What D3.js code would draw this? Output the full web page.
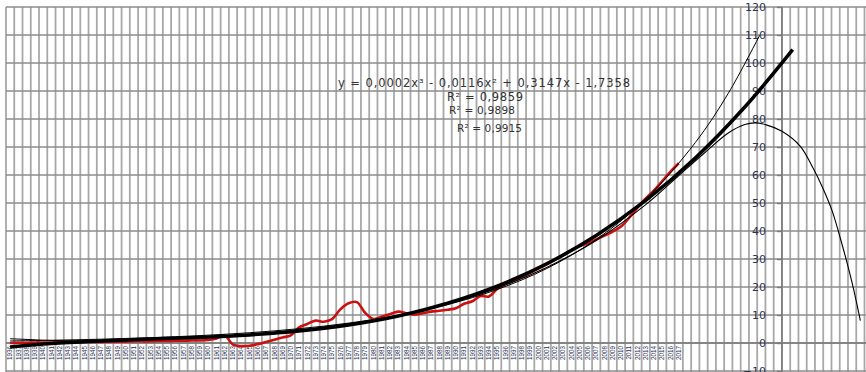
<!DOCTYPE html>
<html><head><meta charset="utf-8">
<script src="https://cdn.jsdelivr.net/npm/d3@7"></script>
<style>
body{margin:0;background:#fff}
svg{display:block;font-family:"DejaVu Sans",Verdana,sans-serif}
</style>
</head><body>
<svg id="c" width="866" height="372"></svg>
<script>
// ---- data ----
const years = ["1936","1937","1938","1939","1940","1941","1942","1943","1944","1945",
"1946","1947","1948","1949","1950","1951","1952","1953","1954","1955",
"1956","1957","1958","1959","1960","1961","1962","1963","1964","1965",
"1966","1967","1968","1969","1970","1971","1972","1973","1974","1975",
"1976","1977","1978","1979","1980","1981","1982","1983","1984","1985",
"1986","1987","1988","1989","1990","1991","1992","1993","1994","1995",
"1996","1997","1998","1999","2000","2001","2002","2003","2004","2005",
"2006","2007","2008","2009","2010","2011","2012","2013","2014","2015",
"2016","2017"];
const values = [0.0,0.1,0.1,0.2,0.2,0.2,0.3,0.3,0.3,0.4,
0.4,0.4,0.5,0.5,0.5,0.6,0.6,0.6,0.7,0.7,
0.8,0.8,0.9,0.9,1.1,1.6,2.7,-0.6,-1.1,-1.0,
-0.4,0.4,1.2,2.0,2.7,5.6,6.8,8.0,7.6,8.5,
12.0,14.2,14.6,10.8,8.6,9.4,10.3,11.2,10.6,10.1,
10.6,11.2,11.5,11.9,12.4,14.0,14.9,16.8,16.6,19.3,
21.0,22.3,23.6,25.1,26.6,28.1,29.7,31.3,33.2,34.6,
35.6,37.0,38.4,39.8,41.6,44.8,48.3,51.6,54.5,57.8,
61.2,64.2];
// trendline readings (category number, value)
const cubicX = [1,6,12,18,24,30,36,42,48,54,60,66,72,78,84,90,95.8];
const cubicY = [-1.4,-0.2,0.7,1.4,2.0,2.9,4.3,6.4,9.6,14.2,20.3,28.3,38.4,50.9,66.1,84.3,104.8];
const expX = [1,6,12,18,24,30,36,42,48,54,60,66,72,78,84,88,91.8];
const expY = [0.74,0.98,1.36,1.9,2.64,3.67,5.11,7.1,9.88,13.74,19.11,26.59,36.98,51.44,71.56,89.17,109.9];
const polyX = [1,6,12,18,24,30,36,42,48,54,60,66,72,78,82,85,88,90,91.2,92.5,94.5,96.7,98.3,99.5,100.6,101.8,103,104];
const polyY = [1.5,0.9,0.8,1.2,2.0,3.1,4.7,6.9,9.9,14.0,19.6,27.0,36.6,49.4,59.8,67.6,75.0,78.0,78.6,78.0,75.6,70.3,62.3,55.0,47.0,35.0,21.5,8.0];
const yTicks = [-10,0,10,20,30,40,50,60,70,80,90,100,110,120];
const equationText = "y = 0,0002x³ - 0,0116x² + 0,3147x - 1,7358";
const r2Texts = ["R² = 0,9859","R² = 0,9898","R² = 0,9915"];

// ---- chart ----
const svg = d3.select("#c");
const x = d3.scaleLinear().domain([0,104]).range([6,864.5]);
const y = d3.scaleLinear().domain([-10,120]).range([371,7]);
const gridColor = "#a8a8a8";

// vertical gridlines
svg.append("g").selectAll("line").data(d3.range(0,105)).join("line")
  .attr("x1",d=>x(d)).attr("x2",d=>x(d)).attr("y1",y(120)).attr("y2",372)
  .attr("stroke",gridColor).attr("stroke-width",1.8);
// horizontal gridlines
svg.append("g").selectAll("line").data(yTicks).join("line")
  .attr("x1",x(0)).attr("x2",866).attr("y1",d=>y(d)).attr("y2",d=>y(d))
  .attr("stroke","#8c8c8c").attr("stroke-width",1.6);

// category axis labels
const band = d3.scaleBand().domain(years).range([x(0),x(years.length)]);
const gx = svg.append("g").attr("transform",`translate(0,${y(0)})`)
  .call(d3.axisBottom(band).tickSize(0));
gx.select(".domain").remove();
gx.selectAll("text")
  .attr("y",0).attr("x",-3).attr("dy","0.35em")
  .attr("transform","rotate(-90)")
  .style("text-anchor","end").style("font-size","6.3px")
  .attr("fill","#2a2f55");

// horizontal axis line at 0
svg.append("line").attr("x1",x(0)).attr("x2",866).attr("y1",y(0)).attr("y2",y(0))
  .attr("stroke","#7a7a7a").attr("stroke-width",1.6);

// value axis
const gy = svg.append("g").attr("transform",`translate(${x(94)},0)`)
  .call(d3.axisLeft(y).tickValues(yTicks).tickSize(5).tickSizeOuter(0).tickPadding(11));
gy.select(".domain").attr("stroke","#7a7a7a").attr("stroke-width",1.6)
  .attr("d",`M0,${y(120)}V372`);
gy.selectAll(".tick line").attr("stroke","#7a7a7a").attr("stroke-width",1.4);
gy.selectAll("text").style("font-size","11px").attr("fill","#2e3350")
  .style("font-family","DejaVu Sans, Verdana, sans-serif");

// data line
const line = d3.line().x(d=>x(d[0]-0.5)).y(d=>y(d[1])).curve(d3.curveCatmullRom.alpha(0.5));
svg.append("path").datum(values.map((v,i)=>[i+1,v]))
  .attr("d",line).attr("fill","none").attr("stroke","#cc1010").attr("stroke-width",2.6);

// trendlines
function trend(xs,ys,w){
  svg.append("path").datum(xs.map((v,i)=>[v,ys[i]]))
    .attr("d",line).attr("fill","none").attr("stroke","#000").attr("stroke-width",w);
}
trend(expX,expY,1);
trend(polyX,polyY,1.1);
trend(cubicX,cubicY,3.5);

// labels
svg.append("text").attr("x",338).attr("y",87).text(equationText)
  .attr("textLength",292).attr("lengthAdjust","spacing")
  .style("font-size","11.5px").attr("fill","#333");
const r2Pos = [[447,101,76,11.5],[449,114,66,10.5],[457,132,65,10.5]];
svg.append("g").selectAll("text").data(r2Texts).join("text")
  .attr("x",(d,i)=>r2Pos[i][0]).attr("y",(d,i)=>r2Pos[i][1])
  .attr("textLength",(d,i)=>r2Pos[i][2]).attr("lengthAdjust","spacing")
  .style("font-size",(d,i)=>r2Pos[i][3]+"px").attr("fill","#333").text(d=>d);
</script>
</body></html>
